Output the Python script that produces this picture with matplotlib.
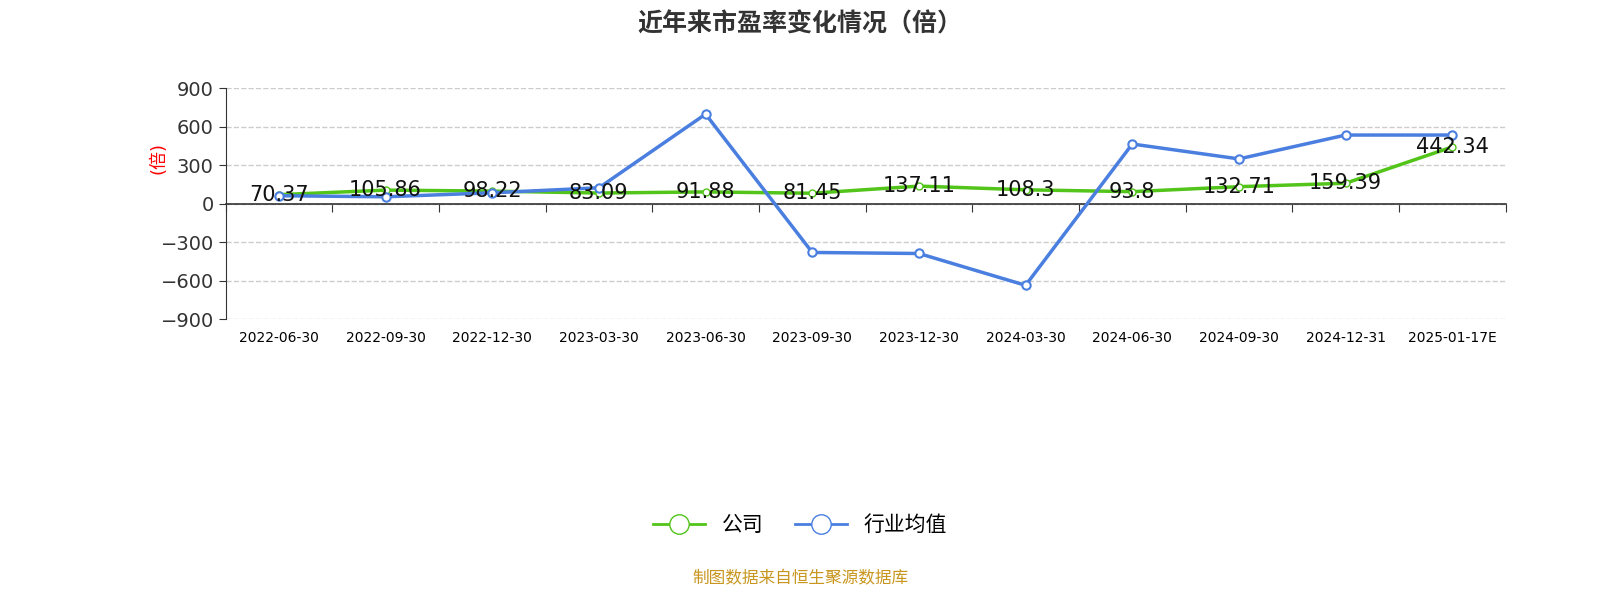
import matplotlib
matplotlib.use("Agg")
import matplotlib.pyplot as plt
from matplotlib.lines import Line2D

plt.rcParams['font.family'] = ['DejaVu Sans', 'Noto Sans CJK SC']

dates = ["2022-06-30", "2022-09-30", "2022-12-30", "2023-03-30", "2023-06-30", "2023-09-30",
         "2023-12-30", "2024-03-30", "2024-06-30", "2024-09-30", "2024-12-31", "2025-01-17E"]
company = [70.37, 105.86, 98.22, 83.09, 91.88, 81.45, 137.11, 108.3, 93.8, 132.71, 159.39, 442.34]
industry = [62, 54, 85, 124, 698, -380, -388, -636, 465, 349, 535, 535]

green = "#52c41a"
blue = "#4a7fe0"

fig = plt.figure(figsize=(16, 6), dpi=100)
ax = fig.add_axes([0.141, 0.468, 0.8, 0.385])
x = range(len(dates))

ax.plot(x, company, color=green, lw=2.5, marker='o', ms=5, mfc='white', mec=green, zorder=3)
ax.plot(x, industry, color=blue, lw=2.5, marker='o', ms=6, mfc='white', mec=blue, mew=1.5, zorder=4)
for i, v in enumerate(company):
    ax.text(i, v, f"{v:g}", ha='center', va='center', fontsize=15, color='#111', zorder=5)

ax.set_xlim(-0.5, len(dates) - 0.5)
ax.set_ylim(-900, 900)
ax.set_yticks(range(-900, 901, 300))
ax.tick_params(axis='y', labelsize=14, colors='#333', length=5)
ax.set_xticks([i - 0.5 for i in range(len(dates) + 1)], minor=False)
ax.set_xticklabels([])
ax.set_xticks(list(x), minor=True)
ax.set_xticklabels(dates, minor=True, rotation=60, ha='right', rotation_mode='anchor', fontsize=15, color='#333')
ax.tick_params(axis='x', which='minor', length=0, pad=92)
ax.tick_params(axis='x', which='major', length=6, color='#333')
ax.grid(axis='y', ls='--', color='#cccccc', lw=1)
for s in ['top', 'right']:
    ax.spines[s].set_visible(False)
ax.spines['bottom'].set_position(('data', 0))
ax.spines['bottom'].set_color('#333')
ax.spines['bottom'].set_linewidth(1.2)
ax.spines['left'].set_color('#333')
ax.set_ylabel("(倍)", color='red', fontsize=13)
ax.yaxis.set_label_coords(-0.045, 0.7)

fig.text(0.5, 0.96, "近年来市盈率变化情况（倍）", ha='center', va='center', fontsize=18, fontweight='bold', color='#333')
handles = [Line2D([], [], color=green, lw=2, marker='o', ms=14, mfc='white', mec=green),
           Line2D([], [], color=blue, lw=2, marker='o', ms=14, mfc='white', mec=blue)]
fig.legend(handles, ["公司", "行业均值"], loc='center', bbox_to_anchor=(0.5, 0.125), ncol=2,
           frameon=False, fontsize=15, handlelength=2.5, columnspacing=1.5)
fig.text(0.5, 0.037, "制图数据来自恒生聚源数据库", ha='center', va='center', fontsize=12, color='#c8961e')

fig.savefig("out.png")
